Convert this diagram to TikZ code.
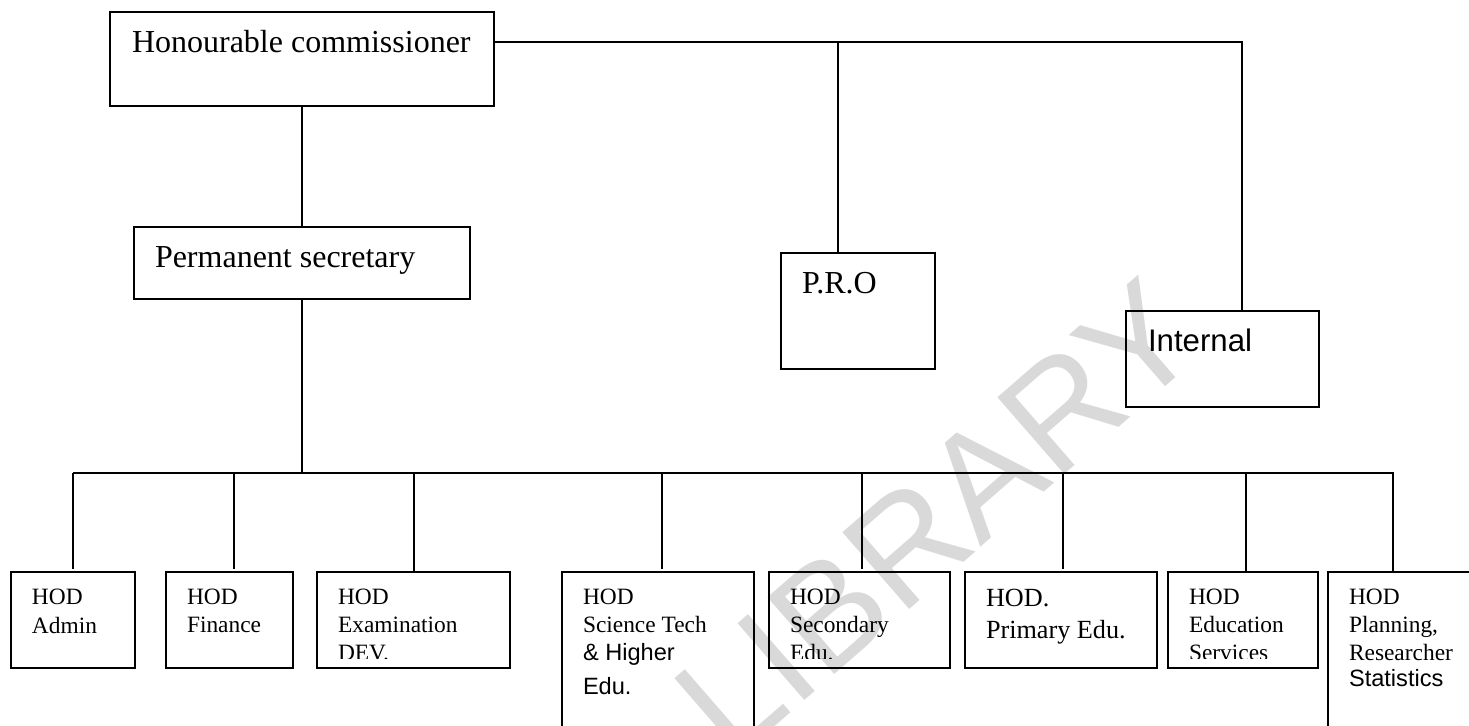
\documentclass[tikz,border=0pt]{standalone}
\usepackage{fontspec}
\setmainfont{Liberation Serif}
\newfontfamily\arial{Liberation Sans}
\begin{document}
\begin{tikzpicture}[x=0.5pt,y=-0.5pt,
  box/.style={draw, line width=1pt, inner sep=0pt, outer sep=0pt},
  txt/.style={anchor=base west, inner sep=0pt, outer sep=0pt},
  big/.style={font=\fontsize{16}{19}\selectfont},
  small/.style={font=\fontsize{11.7}{14}\selectfont},
  smallsans/.style={font=\arial\fontsize{11.8}{14}\selectfont},
  conn/.style={line width=1pt}]
\useasboundingbox (0,0) rectangle (1469,725);
\clip (0,0) rectangle (1469,725);
\fill[white] (0,0) rectangle (1469,725);
% watermark
\node[rotate=41, text=black!15, font=\arial\fontsize{74}{78}\selectfont, inner sep=0pt] (wm) at (937,518) {LIBRARY};
% boxes
\node[box, minimum width=192pt, minimum height=47pt] (com) at (302,59) {};
\node[box, minimum width=168pt, minimum height=36pt] (ps) at (302,263) {};
\node[box, minimum width=77pt, minimum height=58pt] (pro) at (858,311) {};
\node[box, minimum width=96.5pt, minimum height=48pt] (int) at (1222.5,359) {};
\node[box, minimum width=62pt, minimum height=48pt] (adm) at (73,620) {};
\node[box, minimum width=63.5pt, minimum height=48pt] (fin) at (229.5,620) {};
\node[box, minimum width=96.5pt, minimum height=48pt] (exa) at (413.5,620) {};
\node[box, minimum width=96pt, minimum height=84pt] (sci) at (658,656) {};
\node[box, minimum width=90.5pt, minimum height=48pt] (sec) at (859.5,620) {};
\node[box, minimum width=96pt, minimum height=48pt] (pri) at (1061,620) {};
\node[box, minimum width=75pt, minimum height=48pt] (edu) at (1243,620) {};
\node[box, minimum width=76pt, minimum height=84pt] (pla) at (1404,656) {};
% texts
\node[txt, big] (t-com) at (132,52) {Honourable commissioner};
\node[txt, big] (t-ps) at (155,267) {Permanent secretary};
\node[txt, big] (t-pro) at (802,293) {P.R.O};
\node[txt, font=\arial\fontsize{15.6}{18}\selectfont] (t-int) at (1148,351) {Internal};
\node[txt, small] (t-adm1) at (32,604) {HOD};
\node[txt, small] (t-adm2) at (32,633) {Admin};
\node[txt, small] (t-fin1) at (187,604) {HOD};
\node[txt, small] (t-fin2) at (187,632) {Finance};
\node[txt, small] (t-sci1) at (583,604) {HOD};
\node[txt, small] (t-sci2) at (583,632) {Science Tech};
\node[txt, smallsans] (t-sci3) at (583,660) {\&{} Higher};
\node[txt, smallsans] (t-sci4) at (583,694) {Edu.};
\node[txt, font=\fontsize{13.1}{16}\selectfont] (t-pri1) at (986,606) {HOD.};
\node[txt, font=\fontsize{13.1}{16}\selectfont] (t-pri2) at (986,638) {Primary Edu.};
\node[txt, small] (t-pla1) at (1349,604) {HOD};
\node[txt, small] (t-pla2) at (1349,632) {Planning,};
\node[txt, small] (t-pla3) at (1349,660) {Researcher};
\node[txt, smallsans] (t-pla4) at (1349,686) {Statistics};
\begin{scope}
  \clip (300,560) rectangle (1330,658);
  \node[txt, small] (t-exa1) at (338,604) {HOD};
  \node[txt, small] (t-exa2) at (338,632) {Examination};
  \node[txt, small] (t-exa3) at (338,660) {DEV.};
  \node[txt, small] (t-sec1) at (790,604) {HOD};
  \node[txt, small] (t-sec2) at (790,632) {Secondary};
  \node[txt, small] (t-sec3) at (790,660) {Edu.};
  \node[txt, small] (t-edu1) at (1189,604) {HOD};
  \node[txt, small] (t-edu2) at (1189,632) {Education};
  \node[txt, small] (t-edu3) at (1189,660) {Services};
\end{scope}
% connectors
\coordinate (comR) at ([yshift=-15pt]com.north east);
\coordinate (proTop) at (838,253);
\coordinate (intTop) at (1242,311);
\draw[conn] (comR) -| (intTop);
\draw[conn] (proTop |- comR) -- (proTop);
\draw[conn] (com.south) -- (com.south |- ps.north);
\coordinate (busC) at (302,473);
\coordinate (busL) at (73,473);
\coordinate (busR) at (1394,473);
\draw[conn] (ps.south) -- (busC);
\draw[conn] (busL) -- (busR);
\foreach \n/\x/\e in {adm/73/569, fin/234/569, exa/414/572, sci/662/569, sec/862/569, pri/1063/569, edu/1246/572, pla/1393/572}{
  \coordinate (d-\n) at (\x,\e);
  \draw[conn] (d-\n |- busL) -- (d-\n);
}
\end{tikzpicture}
\end{document}
